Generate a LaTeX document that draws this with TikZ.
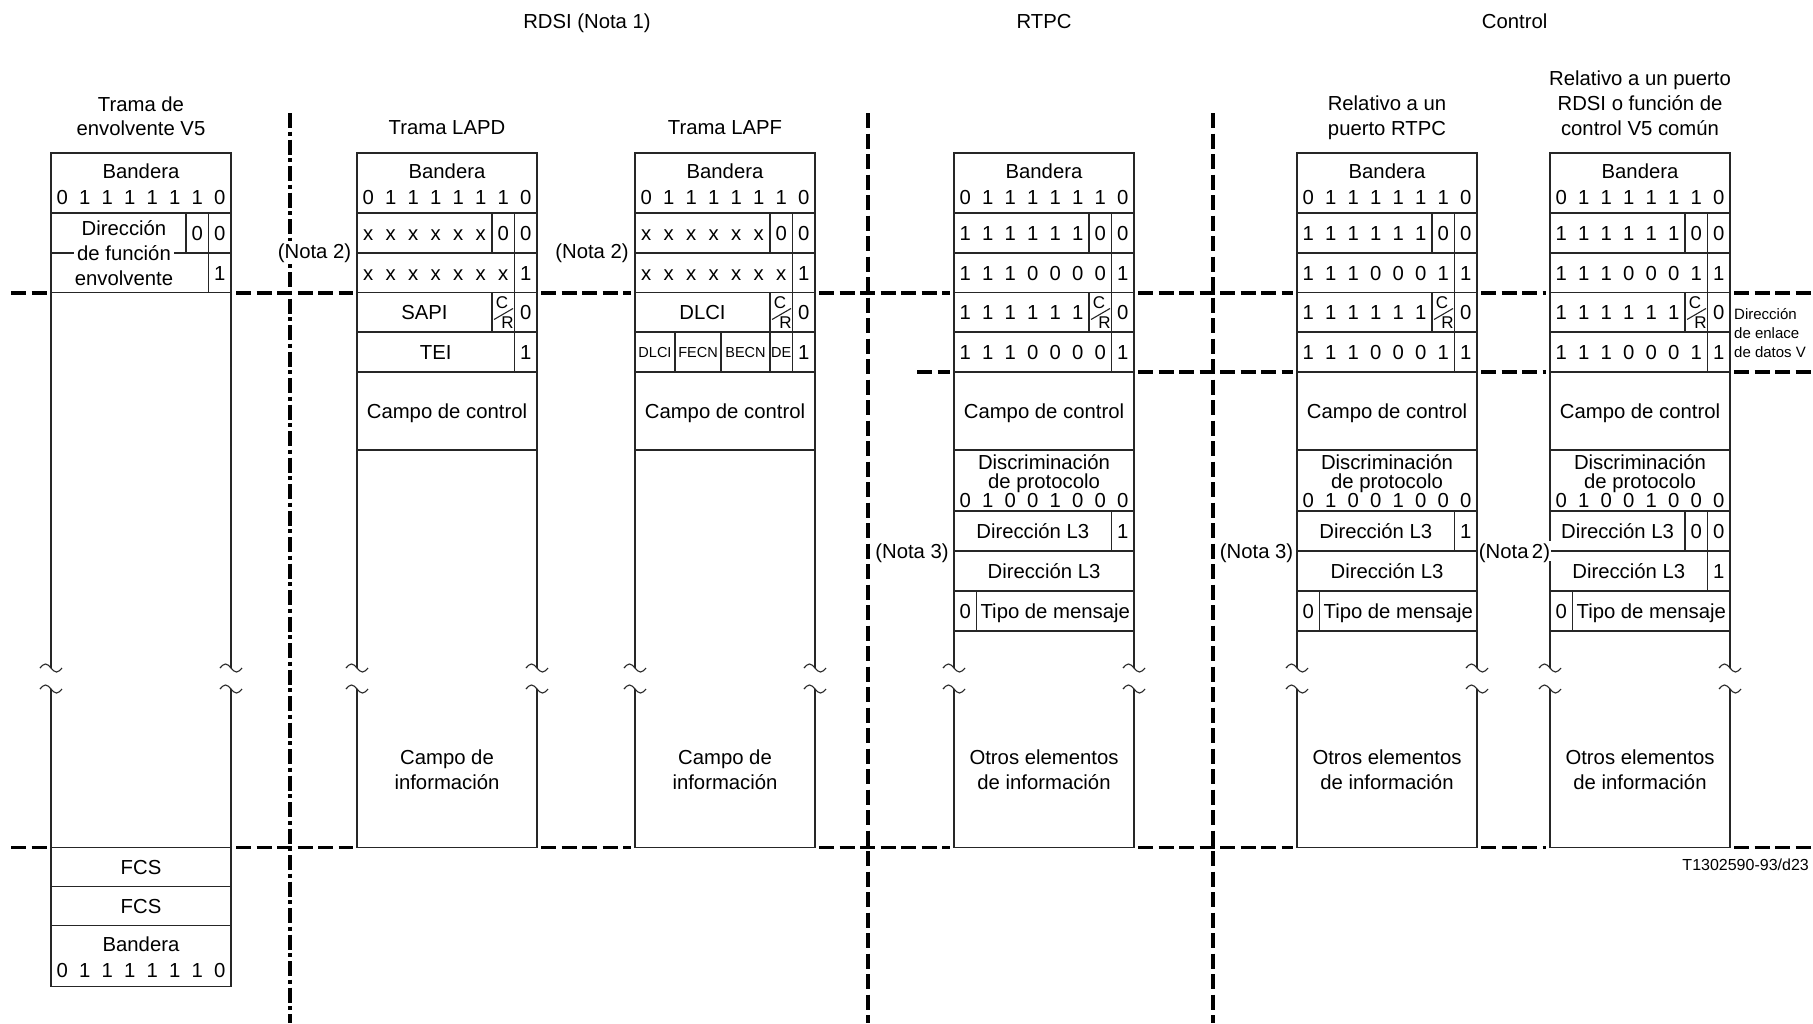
\documentclass[tikz,border=0pt]{standalone}
\usepackage{fontspec}
\setmainfont{Liberation Sans}
\tikzset{
  frame/.style={line width=1.4pt, draw=black!85, line join=miter},
  tld/.style={line width=1.1pt, draw=black!85},
  sepd/.style={line width=3.3pt, dash pattern=on 15pt off 5.5pt},
  sepdd/.style={line width=3.5pt, dash pattern=on 15pt off 3.5pt on 4pt off 4pt},
  txt/.style={inner sep=0pt, font=\fontsize{20.3}{22}\selectfont, text height=14.5pt, text depth=0pt},
  lbl/.style={txt, fill=white, inner xsep=3pt, inner ysep=3pt},
  sml/.style={inner sep=0pt, font=\fontsize{14.5}{16}\selectfont, text height=10.4pt, text depth=0pt},
  nte/.style={inner sep=0pt, font=\fontsize{15}{16}\selectfont, text height=10.8pt, text depth=0pt, anchor=west},
  crf/.style={inner sep=0pt, font=\fontsize{17}{18}\selectfont, text height=12.2pt, text depth=0pt},
  cod/.style={inner sep=0pt, font=\fontsize{16}{18}\selectfont, text height=11.5pt, text depth=0pt, anchor=east}
}
% bit row: prefix, left x, y, list (placed in columns 1..n)
\newcommand\BitRow[4]{\foreach \bb [count=\ii] in {#4}{\node[txt] (#1\ii) at ({#2+22.5*\ii-11.25},#3) {\bb};}}
% single cell: name, left x, column, y, text
\newcommand\BitCell[5]{\node[txt] (#1) at ({#2+22.5*#3-11.25},#4) {#5};}
% tilde break mark
\newcommand\Tld[2]{\draw[tld] ({#1-11},#2) sin ({#1-5.5},{#2-4}) cos ({#1},#2) sin ({#1+5.5},{#2+4}) cos ({#1+11},#2);}
% frame outline with breaks: left x, bottom y
\newcommand\FrOut[2]{%
  \draw[frame] (#1,668) -- (#1,153) -- ({#1+180},153) -- ({#1+180},668);
  \draw[frame] (#1,689) -- (#1,#2) -- ({#1+180},#2) -- ({#1+180},689);
  \Tld{#1}{668}\Tld{#1}{689}\Tld{#1+180}{668}\Tld{#1+180}{689}}
\newcommand\HLn[2]{\draw[frame] (#1,#2) -- ({#1+180},#2);}
\newcommand\VLn[3]{\draw[frame] (#1,#2) -- (#1,#3);}
% C/R glyph: prefix, column left x, row top y
\newcommand\CRglyph[3]{%
  \node[crf] (#1c) at ({#2+10},{#3+10}) {C};
  \node[crf] (#1r) at ({#2+15.5},{#3+30}) {R};
  \draw[tld] ({#2+2},{#3+27}) -- ({#2+21},{#3+16});}
% common flag
\newcommand\Flag[3]{%
  \node[txt] (#1b) at ({#2+90},#3) {Bandera};
  \BitRow{#1f}{#2}{#3+26}{0,1,1,1,1,1,1,0}}

\begin{document}
\begin{tikzpicture}[x=1pt,y=-1pt]
\fill[white] (0,0) rectangle (1813,1023);
\useasboundingbox (0,0) rectangle (1813,1023);

% ---------- separators ----------
\draw[sepdd] (290,113) -- (290,1023);
\draw[sepd] (868,113) -- (868,1023);
\draw[sepd] (1213,113) -- (1213,1023);
\foreach \a/\b in {11/47, 236/353, 541/631, 819/950, 1138/1293, 1481/1546, 1734/1813}{
  \draw[sepd] (\a,293) -- (\b,293);
  \draw[sepd] (\a,847.5) -- (\b,847.5);}
\foreach \a/\b in {917/950, 1138/1293, 1481/1546, 1734/1813}{
  \draw[sepd] (\a,372) -- (\b,372);}

% ---------- group titles ----------
\node[txt] (gRDSI) at (587,21) {RDSI (Nota 1)};
\node[txt] (gRTPC) at (1044,21) {RTPC};
\node[txt] (gCtrl) at (1514.6,21) {Control};

% ---------- V5 envelope frame (L=51) ----------
\node[txt] (v5t1) at (141,104) {Trama de};
\node[txt] (v5t2) at (141,128) {envolvente V5};
\FrOut{51}{986.5}
\HLn{51}{213}\HLn{51}{253}\HLn{51}{292.5}\HLn{51}{847.5}\HLn{51}{886.5}\HLn{51}{925.5}
\VLn{186}{213}{253}\VLn{208.5}{213}{292.5}
\Flag{v5a}{51}{171}
\node[txt] (v5d1) at (124,228) {Dirección};
\node[lbl] (v5d2) at (124,253) {de función};
\node[txt] (v5d3) at (124,278) {envolvente};
\BitCell{v5z1}{51}{7}{233}{0}
\BitCell{v5z2}{51}{8}{233}{0}
\BitCell{v5z3}{51}{8}{273}{1}
\node[txt] (v5fcs1) at (141,867) {FCS};
\node[txt] (v5fcs2) at (141,906) {FCS};
\Flag{v5e}{51}{944}

% ---------- LAPD frame (L=357) ----------
\node[txt] (lapdt) at (447,127) {Trama LAPD};
\node[lbl] (nota2a) at (314.5,251) {(Nota 2)};
\FrOut{357}{847.5}
\HLn{357}{213}\HLn{357}{253}\HLn{357}{292.5}\HLn{357}{332}\HLn{357}{372}\HLn{357}{450}
\VLn{492}{213}{253}\VLn{492}{292.5}{332}\VLn{514.5}{213}{372}
\Flag{lapdf}{357}{171}
\BitRow{lapdr2}{357}{233}{x,x,x,x,x,x,0,0}
\BitRow{lapdr3}{357}{272.75}{x,x,x,x,x,x,x,1}
\node[txt] (sapi) at (424.5,312.25) {SAPI};
\CRglyph{lapdcr}{492}{292.5}
\BitCell{lapdr4z}{357}{8}{312.25}{0}
\node[txt] (tei) at (435.75,352) {TEI};
\BitCell{lapdr5z}{357}{8}{352}{1}
\node[txt] (lapdcc) at (447,411) {Campo de control};
\node[txt] (lapdi1) at (447,757) {Campo de};
\node[txt] (lapdi2) at (447,782) {información};

% ---------- LAPF frame (L=635) ----------
\node[txt] (lapft) at (725,127) {Trama LAPF};
\node[lbl] (nota2b) at (592,251) {(Nota 2)};
\FrOut{635}{847.5}
\HLn{635}{213}\HLn{635}{253}\HLn{635}{292.5}\HLn{635}{332}\HLn{635}{372}\HLn{635}{450}
\VLn{770}{213}{253}\VLn{770}{292.5}{372}\VLn{792.5}{213}{372}
\VLn{675}{332}{372}\VLn{721}{332}{372}
\Flag{lapff}{635}{171}
\BitRow{lapfr2}{635}{233}{x,x,x,x,x,x,0,0}
\BitRow{lapfr3}{635}{272.75}{x,x,x,x,x,x,x,1}
\node[txt] (dlci) at (702.5,312.25) {DLCI};
\CRglyph{lapfcr}{770}{292.5}
\BitCell{lapfr4z}{635}{8}{312.25}{0}
\node[sml] (dlci2) at (655,352) {DLCI};
\node[sml] (fecn) at (698,352) {FECN};
\node[sml] (becn) at (745.5,352) {BECN};
\node[sml] (de) at (781.25,352) {DE};
\BitCell{lapfr5z}{635}{8}{352}{1}
\node[txt] (lapfcc) at (725,411) {Campo de control};
\node[txt] (lapfi1) at (725,757) {Campo de};
\node[txt] (lapfi2) at (725,782) {información};

% ---------- generic V5 data link frames ----------
% RTPC (L=954), Control RTPC (L=1297), Control RDSI (L=1550)
\foreach \L/\p/\q in {954/rt/0, 1297/cr/1, 1550/ci/1}{
  \FrOut{\L}{847.5}
  \foreach \yy in {213,253,292.5,332,372,450,511,551,591,631}{\HLn{\L}{\yy}}
  \VLn{\L+135}{213}{253}\VLn{\L+135}{292.5}{332}\VLn{\L+157.5}{213}{372}
  \VLn{\L+22.5}{591}{631}
  \Flag{\p fl}{\L}{171}
  \BitRow{\p r2}{\L}{233}{1,1,1,1,1,1,0,0}
  \BitRow{\p r3}{\L}{272.75}{1,1,1,0,0,0,\q,1}
  \BitRow{\p r4}{\L}{312.25}{1,1,1,1,1,1}
  \CRglyph{\p cr}{\L+135}{292.5}
  \BitCell{\p r4z}{\L}{8}{312.25}{0}
  \BitRow{\p r5}{\L}{352}{1,1,1,0,0,0,\q,1}
  \node[txt] (\p cc) at ({\L+90},411) {Campo de control};
  \node[txt] (\p d1) at ({\L+90},462) {Discriminación};
  \node[txt] (\p d2) at ({\L+90},481.5) {de protocolo};
  \BitRow{\p pd}{\L}{500}{0,1,0,0,1,0,0,0}
  \BitCell{\p t0}{\L}{1}{611}{0}
  \node[txt] (\p tm) at ({\L+101.25},611) {Tipo de mensaje};
  \node[txt] (\p o1) at ({\L+90},757) {Otros elementos};
  \node[txt] (\p o2) at ({\L+90},782) {de información};
}
% L3 address rows, RTPC style
\foreach \L/\p in {954/rt, 1297/cr}{
  \VLn{\L+157.5}{511}{551}
  \node[txt] (\p la) at ({\L+78.75},531) {Dirección L3};
  \BitCell{\p laz}{\L}{8}{531}{1}
  \node[txt] (\p lb) at ({\L+90},571) {Dirección L3};
}
% L3 address rows, control RDSI style
\VLn{1685}{511}{551}\VLn{1707.5}{511}{591}
\node[txt] (cila) at (1617.5,531) {Dirección L3};
\BitCell{cilaz1}{1550}{7}{531}{0}
\BitCell{cilaz2}{1550}{8}{531}{0}
\node[txt] (cilb) at (1628.75,571) {Dirección L3};
\BitCell{cilbz}{1550}{8}{571}{1}

% titles and notes
\node[txt] (crt1) at (1387,103) {Relativo a un};
\node[txt] (crt2) at (1387,128) {puerto RTPC};
\node[txt] (cit1) at (1640,78) {Relativo a un puerto};
\node[txt] (cit2) at (1640,103) {RDSI o función de};
\node[txt] (cit3) at (1640,128) {control V5 común};
\node[lbl] (nota3a) at (912,551) {(Nota 3)};
\node[lbl] (nota3b) at (1256.6,551) {(Nota 3)};
\node[lbl, inner xsep=1pt] (nota2c) at (1514.5,551) {(Nota\,2)};
\node[nte] (dl1) at (1734,314.5) {Dirección};
\node[nte] (dl2) at (1734,333.5) {de enlace};
\node[nte] (dl3) at (1734,352.5) {de datos V};
\node[cod] (code) at (1809,865) {T1302590-93/d23};
\end{tikzpicture}
\end{document}
